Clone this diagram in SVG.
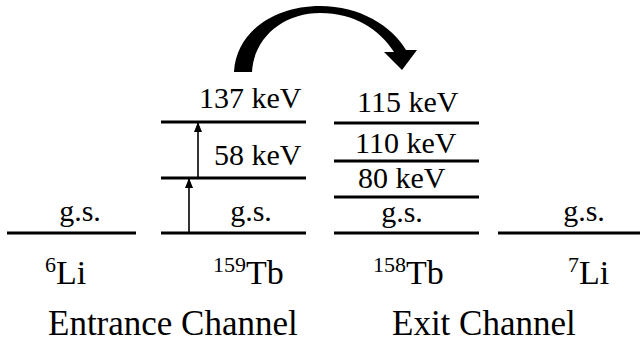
<svg xmlns="http://www.w3.org/2000/svg" width="640" height="342" viewBox="0 0 640 342">
<defs>
<marker id="ah" viewBox="0 0 10 8" refX="9" refY="4" markerWidth="10" markerHeight="8" markerUnits="userSpaceOnUse" orient="auto">
<path d="M0 0 L10 4 L0 8 Z" fill="#000"/>
</marker>
</defs>
<g id="li6">
<line stroke="#000" stroke-width="3" x1="7" y1="233" x2="136" y2="233"/>
<text font-size="30" style="font-family:'Liberation Serif',serif" x="80" y="221" text-anchor="middle">g.s.</text>
<text font-size="34" style="font-family:'Liberation Serif',serif" x="45" y="284"><tspan font-size="22" dy="-12">6</tspan><tspan dy="12">Li</tspan></text>
</g>
<g id="tb159">
<line stroke="#000" stroke-width="3" x1="161" y1="233" x2="306" y2="233"/>
<line stroke="#000" stroke-width="3" x1="161" y1="178" x2="306" y2="178"/>
<line stroke="#000" stroke-width="3" x1="161" y1="122" x2="306" y2="122"/>
<text font-size="30" style="font-family:'Liberation Serif',serif" x="251" y="221" text-anchor="middle">g.s.</text>
<text font-size="30" style="font-family:'Liberation Serif',serif" x="214" y="165">58 keV</text>
<text font-size="30" style="font-family:'Liberation Serif',serif" x="199" y="108">137 keV</text>
<text font-size="34" style="font-family:'Liberation Serif',serif" x="213" y="284"><tspan font-size="22" dy="-12">159</tspan><tspan dy="12">Tb</tspan></text>
</g>
<g id="tb158">
<line stroke="#000" stroke-width="3" x1="334" y1="233" x2="479" y2="233"/>
<line stroke="#000" stroke-width="3" x1="334" y1="197" x2="479" y2="197"/>
<line stroke="#000" stroke-width="3" x1="334" y1="161" x2="479" y2="161"/>
<line stroke="#000" stroke-width="3" x1="334" y1="123" x2="479" y2="123"/>
<text font-size="30" style="font-family:'Liberation Serif',serif" x="402" y="222" text-anchor="middle">g.s.</text>
<text font-size="30" style="font-family:'Liberation Serif',serif" x="358" y="188">80 keV</text>
<text font-size="30" style="font-family:'Liberation Serif',serif" x="355" y="153">110 keV</text>
<text font-size="30" style="font-family:'Liberation Serif',serif" x="357" y="112">115 keV</text>
<text font-size="34" style="font-family:'Liberation Serif',serif" x="373" y="284"><tspan font-size="22" dy="-12">158</tspan><tspan dy="12">Tb</tspan></text>
</g>
<g id="li7">
<line stroke="#000" stroke-width="3" x1="498" y1="233" x2="640" y2="233"/>
<text font-size="30" style="font-family:'Liberation Serif',serif" x="584" y="221" text-anchor="middle">g.s.</text>
<text font-size="34" style="font-family:'Liberation Serif',serif" x="568" y="284"><tspan font-size="22" dy="-12">7</tspan><tspan dy="12">Li</tspan></text>
</g>
<g id="labels">
<text font-size="35" style="font-family:'Liberation Serif',serif" x="48" y="335">Entrance Channel</text>
<text font-size="35" style="font-family:'Liberation Serif',serif" x="392" y="335">Exit Channel</text>
</g>
<g id="connectors">
<line stroke="#000" stroke-width="1.6" x1="189" y1="233" x2="189" y2="179" marker-end="url(#ah)"/>
<line stroke="#000" stroke-width="1.6" x1="198" y1="178" x2="198" y2="123" marker-end="url(#ah)"/>
<path d="M234 72 C236 32 274 6 320 6 C360 6 392 26 406 50 L417 50 L402 70 L384 52 L394 52 C380 30 355 13 320 13 C285 13 254 36 252 72 Z" fill="#000"/>
</g>
</svg>
